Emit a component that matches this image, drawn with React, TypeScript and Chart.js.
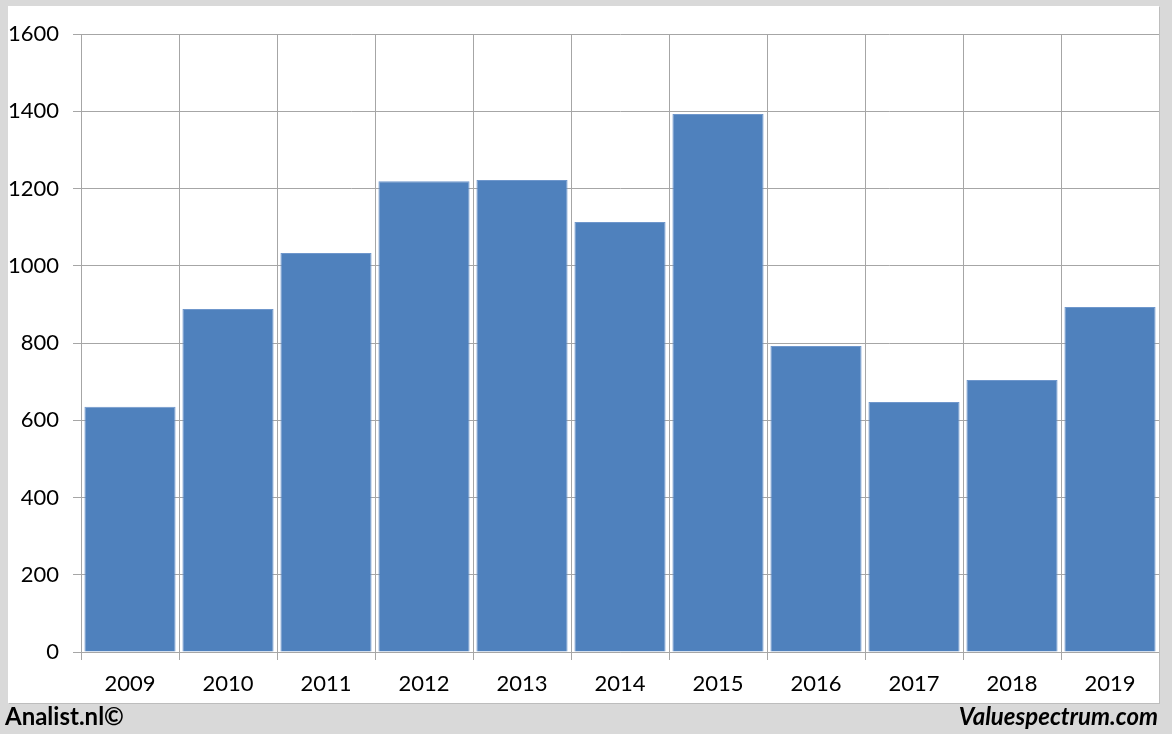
import React, { useEffect, useRef } from "react";
import { Chart, registerables } from "chart.js";

Chart.register(...registerables);

const years = ["2009", "2010", "2011", "2012", "2013", "2014", "2015", "2016", "2017", "2018", "2019"];
const values = [635, 888, 1033, 1219, 1222, 1113, 1393, 792, 647, 704, 893];
const yTicks = [0, 200, 400, 600, 800, 1000, 1200, 1400, 1600];

const FONT = "Lato, 'Open Sans', sans-serif";

export default function App() {
  const ref = useRef<HTMLCanvasElement | null>(null);

  useEffect(() => {
    if (!ref.current) return;
    const chart = new Chart(ref.current, {
      type: "bar",
      data: {
        labels: years,
        datasets: [
          {
            data: values,
            backgroundColor: "#4f81bd",
            borderColor: "#6f97cc",
            borderWidth: 1,
            barPercentage: 0.93,
            categoryPercentage: 1.0,
          },
        ],
      },
      options: {
        animation: false,
        responsive: false,
        maintainAspectRatio: false,
        layout: { padding: { top: 28, right: 0, left: 0, bottom: 0 } },
        plugins: { legend: { display: false }, tooltip: { enabled: false } },
        scales: {
          x: {
            offset: true,
            grid: {
              offset: true,
              color: "#a6a6a6",
              lineWidth: 1,
              tickLength: 8,
              drawTicks: true,
            },
            border: { color: "#a6a6a6" },
            ticks: {
              color: "#000",
              font: { family: FONT, size: 22 },
              padding: 11,
              maxRotation: 0,
            },
            afterFit: (s: any) => {
              s.height = 51;
            },
          },
          y: {
            min: 0,
            max: 1600,
            afterBuildTicks: (s: any) => {
              s.ticks = yTicks.map((v) => ({ value: v }));
            },
            grid: { color: "#a6a6a6", lineWidth: 1, tickLength: 8 },
            border: { color: "#a6a6a6" },
            ticks: {
              color: "#000",
              font: { family: FONT, size: 22 },
              padding: 14,
              callback: (v: any) => String(v),
            },
            afterFit: (s: any) => {
              s.width = 73;
            },
          },
        },
      },
    });
    return () => chart.destroy();
  }, []);

  return (
    <div
      style={{
        position: "fixed",
        left: 0,
        top: 0,
        width: 1172,
        height: 734,
        background: "#d9d9d9",
        overflow: "hidden",
      }}
    >
      <div
        style={{
          position: "absolute",
          left: 8,
          top: 6,
          width: 1151,
          height: 697,
          background: "#ffffff",
          boxShadow: "1px 1px 0 #bdbdbd",
        }}
      >
        <canvas ref={ref} width={1151} height={697} style={{ display: "block" }} />
      </div>
      <div
        style={{
          position: "absolute",
          left: 5,
          top: 701,
          fontFamily: FONT,
          fontWeight: 700,
          fontSize: 24,
          color: "#000",
          lineHeight: "30px",
        }}
      >
        Analist.nl©
      </div>
      <div
        style={{
          position: "absolute",
          right: 14,
          top: 701,
          fontFamily: FONT,
          fontWeight: 700,
          fontStyle: "italic",
          fontSize: 24,
          color: "#000",
          lineHeight: "30px",
        }}
      >
        Valuespectrum.com
      </div>
    </div>
  );
}
